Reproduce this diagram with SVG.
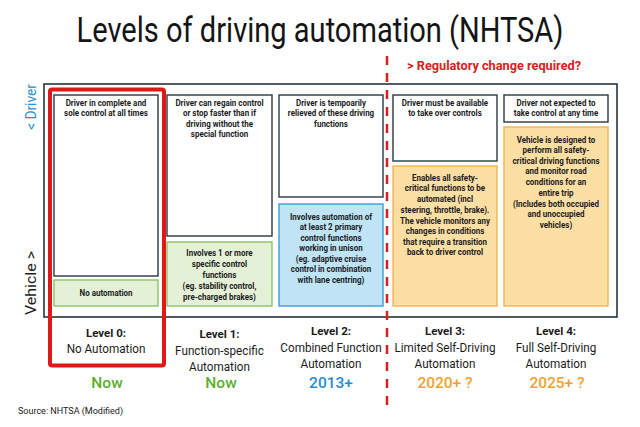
<svg xmlns="http://www.w3.org/2000/svg" width="640" height="427" viewBox="0 0 640 427">
<style>
  text { font-family: Roboto, "Liberation Sans", sans-serif; }
  .s { font-size: 9.3px; font-weight: 700; fill: #1c1c1c; text-anchor: middle; }
  .box { fill: #ffffff; stroke: #2b3840; stroke-width: 1.4; }
  .green { fill: #e5f1d6; stroke: #8cc46a; stroke-width: 1.4; }
  .blue { fill: #bfe4f6; stroke: #3a9fd8; stroke-width: 1.4; }
  .orange { fill: #fddfa3; stroke: #f0b358; stroke-width: 1.4; }
  .lvl { font-size: 11.5px; font-weight: 700; fill: #1c1c1c; text-anchor: middle; }
  .lname { font-size: 13px; font-weight: 400; fill: #1c1c1c; text-anchor: middle; }
  .when { font-size: 15.5px; font-weight: 500; text-anchor: middle; }
</style>
<rect width="640" height="427" fill="#ffffff"/>

<text transform="translate(320 42) scale(0.83 1)" x="0" y="0" font-size="35" font-weight="400" fill="#141414" text-anchor="middle">Levels of driving automation (NHTSA)</text>

<text x="407" y="70" font-size="12" font-weight="700" fill="#d52222" textLength="174" lengthAdjust="spacingAndGlyphs">&gt; Regulatory change required?</text>

<text transform="translate(36 107) rotate(-90)" font-size="14" fill="#2a8fd0" text-anchor="middle" textLength="46" lengthAdjust="spacingAndGlyphs">&lt; Driver</text>
<text transform="translate(36 283) rotate(-90)" font-size="15" fill="#1c1c1c" text-anchor="middle" textLength="64" lengthAdjust="spacingAndGlyphs">Vehicle &gt;</text>

<g id="frame">
  <rect x="44" y="84" width="573" height="233" fill="none" stroke="#26343c" stroke-width="1.6"/>
</g>

<g id="level0">
  <g id="level0-driver">
    <rect class="box" x="54" y="95" width="104" height="181"/>
    <text class="s" transform="translate(106 0) scale(0.86 1)"><tspan x="0" y="106">Driver in complete and</tspan><tspan x="0" y="116.5">sole control at all times</tspan></text>
  </g>
  <g id="level0-vehicle">
    <rect class="green" x="54" y="280" width="104" height="26"/>
    <text class="s" transform="translate(106 0) scale(0.86 1)"><tspan x="0" y="296">No automation</tspan></text>
  </g>
  <text class="lvl" x="106" y="337">Level 0:</text>
  <text class="lname" transform="translate(106 0) scale(0.9 1)"><tspan x="0" y="353">No Automation</tspan></text>
  <text class="when" x="107" y="388" fill="#5cae2e">Now</text>
</g>

<g id="level1">
  <g id="level1-driver">
    <rect class="box" x="167" y="95" width="105" height="141"/>
    <text class="s" transform="translate(219.5 0) scale(0.86 1)"><tspan x="0" y="106">Driver can regain control</tspan><tspan x="0" y="116.5">or stop faster than if</tspan><tspan x="0" y="127">driving without the</tspan><tspan x="0" y="137.5">special function</tspan></text>
  </g>
  <g id="level1-vehicle">
    <rect class="green" x="167" y="242" width="105" height="64"/>
    <text class="s" transform="translate(219.5 0) scale(0.86 1)"><tspan x="0" y="256">Involves 1 or more</tspan><tspan x="0" y="267">specific control</tspan><tspan x="0" y="278">functions</tspan><tspan x="0" y="289.5">(eg. stability control,</tspan><tspan x="0" y="300">pre-charged brakes)</tspan></text>
  </g>
  <text class="lvl" x="219.5" y="338">Level 1:</text>
  <text class="lname" transform="translate(219.5 0) scale(0.9 1)"><tspan x="0" y="355">Function-specific</tspan><tspan x="0" y="371">Automation</tspan></text>
  <text class="when" x="221" y="388" fill="#5cae2e">Now</text>
</g>

<g id="level2">
  <g id="level2-driver">
    <rect class="box" x="279" y="95" width="104" height="102"/>
    <text class="s" transform="translate(331 0) scale(0.86 1)"><tspan x="0" y="106">Driver is tempoarily</tspan><tspan x="0" y="116.5">relieved of these driving</tspan><tspan x="0" y="127">functions</tspan></text>
  </g>
  <g id="level2-vehicle">
    <rect class="blue" x="279" y="204" width="104" height="102"/>
    <text class="s" transform="translate(331 0) scale(0.86 1)"><tspan x="0" y="220">Involves automation of</tspan><tspan x="0" y="230.5">at least 2 primary</tspan><tspan x="0" y="241">control functions</tspan><tspan x="0" y="251.5">working in unison</tspan><tspan x="0" y="262">(eg. adaptive cruise</tspan><tspan x="0" y="272.5">control in combination</tspan><tspan x="0" y="283">with lane centring)</tspan></text>
  </g>
  <text class="lvl" x="331" y="335">Level 2:</text>
  <text class="lname" transform="translate(331 0) scale(0.9 1)"><tspan x="0" y="352">Combined Function</tspan><tspan x="0" y="368">Automation</tspan></text>
  <text class="when" x="331" y="388" fill="#2a8ad0">2013+</text>
</g>

<g id="level3">
  <g id="level3-driver">
    <rect class="box" x="393" y="95" width="104" height="66"/>
    <text class="s" transform="translate(445 0) scale(0.86 1)"><tspan x="0" y="106">Driver must be available</tspan><tspan x="0" y="116.5">to take over controls</tspan></text>
  </g>
  <g id="level3-vehicle">
    <rect class="orange" x="393" y="166" width="104" height="140"/>
    <text class="s" transform="translate(445 0) scale(0.86 1)"><tspan x="0" y="181">Enables all safety-</tspan><tspan x="0" y="191.5">critical functions to be</tspan><tspan x="0" y="202">automated (incl</tspan><tspan x="0" y="213">steering, throttle, brake).</tspan><tspan x="0" y="224">The vehicle monitors any</tspan><tspan x="0" y="234.5">changes in conditions</tspan><tspan x="0" y="245">that require a transition</tspan><tspan x="0" y="255.5">back to driver control</tspan></text>
  </g>
  <text class="lvl" x="445" y="335">Level 3:</text>
  <text class="lname" transform="translate(445 0) scale(0.9 1)"><tspan x="0" y="352">Limited Self-Driving</tspan><tspan x="0" y="368">Automation</tspan></text>
  <text class="when" x="445" y="388" fill="#f0a22e">2020+ ?</text>
</g>

<g id="level4">
  <g id="level4-driver">
    <rect class="box" x="504" y="95" width="104" height="27"/>
    <text class="s" transform="translate(556 0) scale(0.86 1)"><tspan x="0" y="106">Driver not expected to</tspan><tspan x="0" y="116.5">take control at any time</tspan></text>
  </g>
  <g id="level4-vehicle">
    <rect class="orange" x="504" y="127" width="104" height="179"/>
    <text class="s" transform="translate(556 0) scale(0.86 1)"><tspan x="0" y="143">Vehicle is designed to</tspan><tspan x="0" y="153.5">perform all safety-</tspan><tspan x="0" y="164">critical driving functions</tspan><tspan x="0" y="174.5">and monitor road</tspan><tspan x="0" y="185">conditions for an</tspan><tspan x="0" y="196">entire trip</tspan><tspan x="0" y="207">(Includes both occupied</tspan><tspan x="0" y="217.5">and unoccupied</tspan><tspan x="0" y="228">vehicles)</tspan></text>
  </g>
  <text class="lvl" x="556" y="335">Level 4:</text>
  <text class="lname" transform="translate(556 0) scale(0.9 1)"><tspan x="0" y="352">Full Self-Driving</tspan><tspan x="0" y="368">Automation</tspan></text>
  <text class="when" x="557" y="388" fill="#f0a22e">2025+ ?</text>
</g>

<g id="highlight-level0">
  <rect x="50" y="89.5" width="114" height="276" rx="2" fill="none" stroke="#e01818" stroke-width="4"/>
</g>

<g id="connectors">
  <line x1="387" y1="56" x2="387" y2="410" stroke="#d82020" stroke-width="2.5" stroke-dasharray="9 8"/>
</g>

<text x="18" y="414" font-family="'Liberation Sans', Arial, sans-serif" font-size="9" fill="#222">Source: NHTSA (Modified)</text>
</svg>
